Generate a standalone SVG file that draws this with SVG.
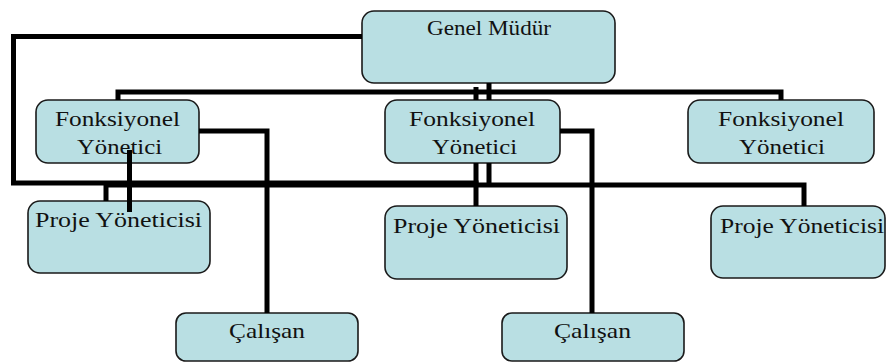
<svg xmlns="http://www.w3.org/2000/svg" width="887" height="363" viewBox="0 0 887 363">
  <style>
    .box { fill: #b9dfe3; stroke: #1a1a1a; stroke-width: 1.6; }
    .lbl { font-family: "Liberation Serif", "Times New Roman", serif; font-size: 21px; fill: #111; }
    .wire { fill: none; stroke: #000; stroke-width: 5; stroke-linejoin: miter; stroke-linecap: butt; }
  </style>
  <rect width="887" height="363" fill="#fff"/>

  <!-- nodes -->
  <g id="genel-mudur">
    <rect class="box" x="362" y="11" width="253" height="72" rx="12"/>
    <text class="lbl" x="427" y="35" textLength="124" lengthAdjust="spacingAndGlyphs">Genel Müdür</text>
  </g>
  <g id="fonksiyonel-1">
    <rect class="box" x="36" y="100" width="163" height="63" rx="12"/>
    <text class="lbl" x="55" y="126" textLength="125" lengthAdjust="spacingAndGlyphs">Fonksiyonel</text>
    <text class="lbl" x="77" y="154" textLength="85" lengthAdjust="spacingAndGlyphs">Yönetici</text>
  </g>
  <g id="fonksiyonel-2">
    <rect class="box" x="385" y="100" width="175" height="63" rx="12"/>
    <text class="lbl" x="409" y="126" textLength="126" lengthAdjust="spacingAndGlyphs">Fonksiyonel</text>
    <text class="lbl" x="432" y="154" textLength="85" lengthAdjust="spacingAndGlyphs">Yönetici</text>
  </g>
  <g id="fonksiyonel-3">
    <rect class="box" x="688" y="100" width="186" height="63" rx="12"/>
    <text class="lbl" x="718" y="126" textLength="126" lengthAdjust="spacingAndGlyphs">Fonksiyonel</text>
    <text class="lbl" x="739" y="154" textLength="86" lengthAdjust="spacingAndGlyphs">Yönetici</text>
  </g>
  <g id="proje-1">
    <rect class="box" x="28" y="201" width="182" height="72" rx="12"/>
    <text class="lbl" x="35" y="227" textLength="167" lengthAdjust="spacingAndGlyphs">Proje Yöneticisi</text>
  </g>
  <g id="proje-2">
    <rect class="box" x="385" y="206" width="182" height="73" rx="12"/>
    <text class="lbl" x="393" y="233" textLength="167" lengthAdjust="spacingAndGlyphs">Proje Yöneticisi</text>
  </g>
  <g id="proje-3">
    <rect class="box" x="711" y="206" width="174" height="72" rx="12"/>
    <text class="lbl" x="720" y="233" textLength="164" lengthAdjust="spacingAndGlyphs">Proje Yöneticisi</text>
  </g>
  <g id="calisan-1">
    <rect class="box" x="176" y="313" width="182" height="48" rx="10"/>
    <text class="lbl" x="229" y="338" textLength="76" lengthAdjust="spacingAndGlyphs">Çalışan</text>
  </g>
  <g id="calisan-2">
    <rect class="box" x="502" y="313" width="182" height="48" rx="10"/>
    <text class="lbl" x="554" y="338" textLength="77" lengthAdjust="spacingAndGlyphs">Çalışan</text>
  </g>

  <!-- connectors -->
  <g id="connectors">
    <path class="wire" d="M118,100 V92 H781 V100"/>
    <path class="wire" d="M476,87 V100 M489,83 V100"/>
    <path class="wire" d="M362,36.5 H13.5 V183 H476 V206"/>
    <path class="wire" d="M476,163 V183 M489,163 V185 H804 V206 M489,185 H106 V201"/>
    <path class="wire" d="M129.5,150 V212"/>
    <path class="wire" d="M199,131 H267 V313"/>
    <path class="wire" d="M560,131 H592 V313"/>
  </g>
</svg>
